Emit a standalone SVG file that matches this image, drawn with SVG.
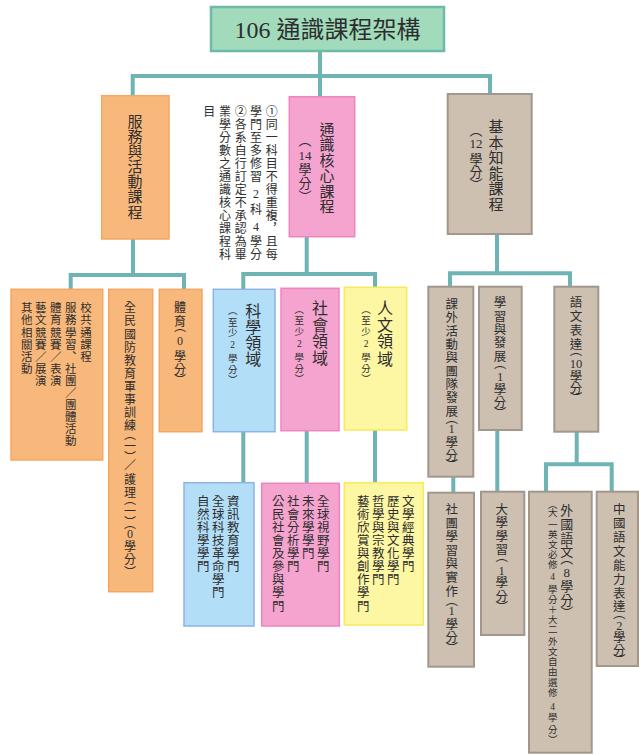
<svg xmlns="http://www.w3.org/2000/svg" width="639" height="754" viewBox="0 0 639 754">
<style>
.cj{font-family:"Liberation Serif","Noto Sans CJK TC","Noto Sans CJK SC",serif;fill:#2e2e2e;text-anchor:middle;dominant-baseline:central}
.s9{font-size:9.5px}.s11{font-size:11.5px}.s12{font-size:12px}.s125{font-size:12.5px}.s13{font-size:13px}.s15{font-size:15px}.s16{font-size:16px}
.or{fill:#f9b87b;stroke:#f5a660;stroke-width:1.5}
.pk{fill:#f5a4cf;stroke:#ee84be;stroke-width:1.5}
.tn{fill:#cdc0b1;stroke:#a2978d;stroke-width:2}
.bl{fill:#b2def8;stroke:#8fb3e2;stroke-width:1.5}
.yl{fill:#fdf6a2;stroke:#f7ea5c;stroke-width:1.5}
.ln{fill:none;stroke:#6fb4b5;stroke-width:4;stroke-linejoin:miter}
</style>
<g id="connectors">
<path class="ln" d="M320 51 V97"/>
<path class="ln" d="M132.7 96 V76 H490 V94"/>
<path class="ln" d="M133 239 V275"/>
<path class="ln" d="M70.7 289.3 V275 H184 V289.3"/>
<path class="ln" d="M306.7 237 V274"/>
<path class="ln" d="M243.3 289.3 V274 H375 V287.3"/>
<path class="ln" d="M243.3 431.7 V482.7"/>
<path class="ln" d="M306.7 430.7 V483.3"/>
<path class="ln" d="M375 430 V482.7"/>
<path class="ln" d="M497 234 V273.3"/>
<path class="ln" d="M450 286.7 V273.3 H570 V286.7"/>
<path class="ln" d="M453.3 476.7 V492.7"/>
<path class="ln" d="M497.3 430 V491.7"/>
<path class="ln" d="M576.7 431.7 V464.3"/>
<path class="ln" d="M546 491.7 V464.3 H611.7 V491.7"/>
</g>
<g id="title">
<rect x="211" y="7" width="233" height="44" fill="#a1dbbb" stroke="#6dbaa6" stroke-width="2.5"/>
<text class="cj" x="327.5" y="30" style="font-size:24px">106 通識課程架構</text>
</g>
<g id="service">
<rect class="or" x="101.7" y="95.7" width="67.3" height="143.3"/>
<text class="cj s15" x="135 135 135 135 135 135 135" y="121.7 136.8 152 167.1 182.3 197.4 212.6">服務與活動課程</text>
</g>
<g id="core">
<rect class="pk" x="289.3" y="96.7" width="65.4" height="140"/>
<text class="cj s15" x="327 327 327 327 327 327" y="130 145.4 160.8 176.2 191.6 207">通識核心課程</text>
<text class="cj s13" x="305 301.7 308.3 305 305 305" y="140.5 155 155 169.3 183.3 196.1">︵14學分︶</text>
</g>
<g id="notes">
<text class="cj s12" x="271.7 271.7 271.7 271.7 271.7 271.7 271.7 271.7 271.7 271.7 271.7 271.7" y="111.7 124.7 137.8 150.8 163.8 176.9 189.9 202.9 215.9 229 242 255">①同一科目不得重複︐且每</text>
<text class="cj s12" x="256 256 256 256 256 256 256 256 256 256 256" y="111.7 124.7 137.8 150.8 163.8 176.9 194 210 226.5 242 255">學門至多修習2科4學分</text>
<text class="cj s12" x="240.7 240.7 240.7 240.7 240.7 240.7 240.7 240.7 240.7 240.7 240.7 240.7" y="111.7 124.7 137.8 150.8 163.8 176.9 189.9 202.9 215.9 229 242 255">②各系自行訂定不承認為畢</text>
<text class="cj s12" x="225 225 225 225 225 225 225 225 225 225 225 225" y="111.7 124.7 137.8 150.8 163.8 176.9 189.9 202.9 215.9 229 242 255">業學分數之通識核心課程科</text>
<text class="cj s12" x="209.3" y="111.7">目</text>
</g>
<g id="basic">
<rect class="tn" x="447.7" y="94" width="84" height="140"/>
<text class="cj s15" x="496 496 496 496 496 496" y="127 142.5 158 173.5 189 204.5">基本知能課程</text>
<text class="cj s13" x="476 472.7 479.3 476 476 476" y="130.5 143.5 143.5 159 172.5 184.5">︵12學分︶</text>
</g>
<g id="svc-school">
<rect class="or" x="11" y="289.3" width="91.7" height="170.7"/>
<text class="cj s11" x="86 86 86 86 86" y="308.3 320.4 332.5 344.6 356.7">校共通課程</text>
<text class="cj s11" x="70.7 70.7 70.7 70.7 70.7 70.7 70.7 70.7 70.7 70.7 70.7 70.7" y="308.3 320.4 332.5 344.6 356.7 368.8 380.9 393 405.1 417.2 429.3 441.4">服務學習︑社團／團體活動</text>
<text class="cj s11" x="55.7 55.7 55.7 55.7 55.7 55.7 55.7" y="308.3 320.4 332.5 344.6 356.7 368.8 380.9">體育競賽／表演</text>
<text class="cj s11" x="40.7 40.7 40.7 40.7 40.7 40.7 40.7" y="308.3 320.4 332.5 344.6 356.7 368.8 380.9">藝文競賽／展演</text>
<text class="cj s11" x="26.7 26.7 26.7 26.7 26.7 26.7" y="308.3 320.4 332.5 344.6 356.7 368.8">其他相關活動</text>
</g>
<g id="svc-defense">
<rect class="or" x="108.7" y="289.3" width="44" height="302.4"/>
<text class="cj s12" x="130 130 130 130 130 130 130 130 130 130 130 130 130 130 130 130 130 130 130 130 130 130 130 130" y="308.3 321.4 334.5 347.6 360.7 373.8 386.9 400 413.1 426.2 435.4 446.7 457.6 466 480 493.3 500.4 511.7 522.6 524.4 534 547 560 572.6">全民國防教育軍事訓練︵一︶／護理︵一︶︵0學分︶</text>
</g>
<g id="svc-pe">
<rect class="or" x="159.3" y="289.3" width="42.7" height="142.4"/>
<text class="cj s12" x="180 180 180 180 180 180 180" y="308 321.7 327.4 341 356.7 370 380.6">體育︵0學分︶</text>
</g>
<g id="science">
<rect class="bl" x="213.3" y="289.3" width="61.7" height="142.4"/>
<text class="cj s16" x="253.3 253.3 253.3 253.3" y="311.7 327.7 343.7 359.7">科學領域</text>
<text class="cj s9" x="232.7 232.7 232.7 232.7 232.7 232.7 232.7" y="311 322.7 333.3 345 359.3 370 380">︵至少2學分︶</text>
</g>
<g id="social">
<rect class="pk" x="281" y="288.3" width="58" height="142.4"/>
<text class="cj s16" x="320 320 320 320" y="308.3 325 341.7 358.3">社會領域</text>
<text class="cj s9" x="299.3 299.3 299.3 299.3 299.3 299.3 299.3" y="309.7 320.5 331.5 344 358.3 369 379.3">︵至少2學分︶</text>
</g>
<g id="humanities">
<rect class="yl" x="344.3" y="287.3" width="62.4" height="142.7"/>
<text class="cj s16" x="385 385 385 385" y="308.3 325 341.7 359">人文領域</text>
<text class="cj s9" x="366 366 366 366 366 366 366" y="309.7 320.5 331.5 344 358.3 369 379.3">︵至少2學分︶</text>
</g>
<g id="science-fields">
<rect class="bl" x="184" y="482.7" width="70" height="143.3"/>
<text class="cj s125" x="233.3 233.3 233.3 233.3 233.3 233.3" y="501.7 514.8 527.9 541 554.1 567.2">資訊教育學門</text>
<text class="cj s125" x="218.3 218.3 218.3 218.3 218.3 218.3 218.3 218.3" y="501.7 514.8 527.9 541 554.1 567.2 580.3 593.4">全球科技革命學門</text>
<text class="cj s125" x="203.3 203.3 203.3 203.3 203.3 203.3" y="501.7 514.8 527.9 541 554.1 567.2">自然科學學門</text>
</g>
<g id="social-fields">
<rect class="pk" x="261.7" y="483.3" width="77.6" height="142.7"/>
<text class="cj s125" x="323.3 323.3 323.3 323.3 323.3 323.3" y="501.7 514.8 527.9 541 554.1 567.2">全球視野學門</text>
<text class="cj s125" x="308.3 308.3 308.3 308.3 308.3" y="501.7 514.8 527.9 541 554.1">未來學學門</text>
<text class="cj s125" x="293.3 293.3 293.3 293.3 293.3 293.3" y="501.7 514.8 527.9 541 554.1 567.2">社會分析學門</text>
<text class="cj s125" x="278.3 278.3 278.3 278.3 278.3 278.3 278.3 278.3 278.3" y="501.7 514.8 527.9 541 554.1 567.2 580.3 593.4 606.5">公民社會及參與學門</text>
</g>
<g id="humanities-fields">
<rect class="yl" x="344.3" y="482.7" width="79" height="142.3"/>
<text class="cj s125" x="408.3 408.3 408.3 408.3 408.3 408.3" y="501.7 514.8 527.9 541 554.1 567.2">文學經典學門</text>
<text class="cj s125" x="393.3 393.3 393.3 393.3 393.3 393.3 393.3" y="501.7 514.8 527.9 541 554.1 567.2 580.3">歷史與文化學門</text>
<text class="cj s125" x="378.3 378.3 378.3 378.3 378.3 378.3 378.3" y="501.7 514.8 527.9 541 554.1 567.2 580.3">哲學與宗教學門</text>
<text class="cj s125" x="363.3 363.3 363.3 363.3 363.3 363.3 363.3 363.3 363.3" y="501.7 514.8 527.9 541 554.1 567.2 580.3 593.4 606.5">藝術欣賞與創作學門</text>
</g>
<g id="extracurricular">
<rect class="tn" x="428.3" y="286.7" width="45" height="190"/>
<text class="cj s125" x="451.7 451.7 451.7 451.7 451.7 451.7 451.7 451.7 451.7 451.7 451.7 451.7 451.7 451.7" y="305 318.3 331.7 345 358.3 371.7 385 398.3 411.7 419.1 429 443.3 455.5 465.9">課外活動與團隊發展︵1學分︶</text>
</g>
<g id="learning">
<rect class="tn" x="479" y="286.7" width="42.7" height="143.3"/>
<text class="cj s125" x="500 500 500 500 500 500 500 500 500 500" y="303.3 316.7 330 343.3 356.7 364.1 376.5 390 403.3 414.3">學習與發展︵1學分︶</text>
</g>
<g id="language">
<rect class="tn" x="554.3" y="286.7" width="44" height="145"/>
<text class="cj s125" x="576 576 576 576 576 572.9 579.1 576 576 576" y="303.3 317 331 345 350.7 363.5 363.5 376.7 389 399.3">語文表達︵10學分︶</text>
</g>
<g id="club">
<rect class="tn" x="428.3" y="492.7" width="45.7" height="174"/>
<text class="cj s125" x="451.7 451.7 451.7 451.7 451.7 451.7 451.7 451.7 451.7 451.7 451.7 451.7" y="510 523.5 537 550.5 564 578 592 600.7 611 625 638.3 649.3">社團學習與實作︵1學分︶</text>
</g>
<g id="university">
<rect class="tn" x="481" y="491.7" width="43.3" height="143.3"/>
<text class="cj s125" x="501.7 501.7 501.7 501.7 501.7 501.7 501.7 501.7 501.7" y="510 523.3 537 550 557.4 570.5 583.3 596.7 607.6">大學學習︵1學分︶</text>
</g>
<g id="foreign">
<rect class="tn" x="529" y="491.7" width="62.7" height="261"/>
<text class="cj s13" x="566.7 566.7 566.7 566.7 566.7 566.7 566.7 566.7 566.7" y="510 524.5 538.3 551.7 558.9 572 586.7 600 612.8">外國語文︵8學分︶</text>
<text class="cj s9" x="552.7 552.7 552.7 552.7 552.7 552.7 552.7 552.7 552.7 552.7 552.7 552.7 552.7 552.7 552.7 552.7 552.7 552.7 552.7 552.7 552.7 552.7 552.7" y="504.7 513.3 525 535 545 555 565 576.7 590 600 610 620 630 641.7 651.7 661.7 671.7 683.3 693.3 706.7 718.3 730 740.3">︵大一英文必修4學分＋大二外文自由選修4學分︶</text>
</g>
<g id="chinese">
<rect class="tn" x="596.7" y="491.7" width="41.3" height="174.3"/>
<text class="cj s125" x="619.3 619.3 619.3 619.3 619.3 619.3 619.3 619.3 619.3 619.3 619.3 619.3 619.3" y="510 524 537.5 551.5 565.5 579.5 593.5 607 614.1 625.5 638.3 650.5 660.9">中國語文能力表達︵2學分︶</text>
</g>
</svg>
